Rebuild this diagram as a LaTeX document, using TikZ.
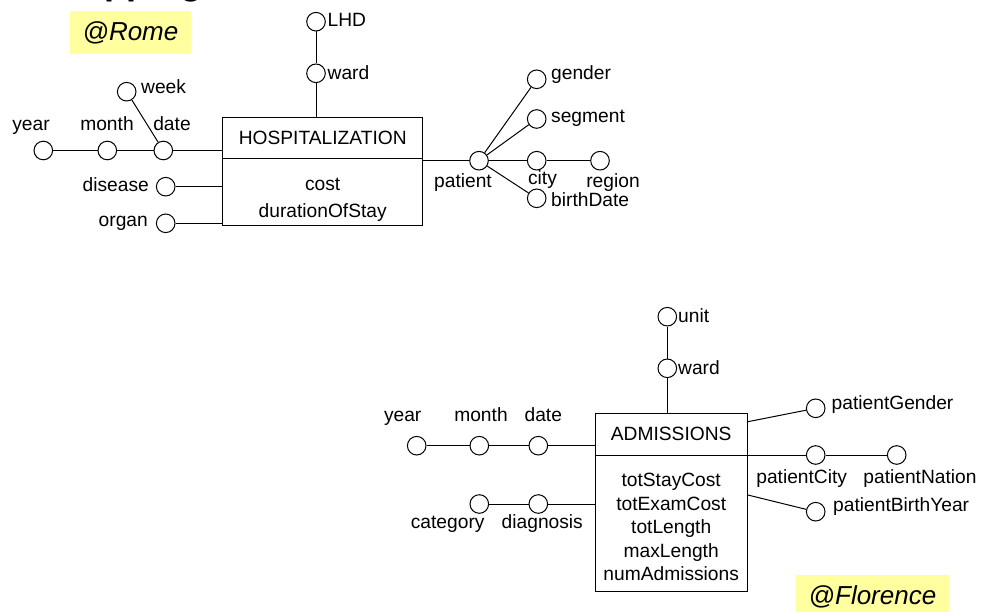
\documentclass[tikz,border=0pt]{standalone}
\usepackage{fontspec}
\setmainfont{Liberation Sans}
\definecolor{siteyellow}{RGB}{255,255,160}
\begin{document}
\begin{tikzpicture}[x=1pt,y=-1pt,
  every node/.style={font=\fontsize{19.2}{23}\selectfont},
  attr/.style={draw, circle, fill=white, inner sep=0pt, minimum size=18.6pt, line width=1pt},
  lbl/.style={inner sep=0pt, text height=13.6pt, text depth=0pt},
  fact/.style={draw, line width=1pt, inner sep=0pt},
  link/.style={line width=1pt},
  site/.style={fill=siteyellow, inner sep=0pt, font=\fontsize{26}{30}\selectfont\itshape}
]
\useasboundingbox (0,0) rectangle (985,612);
\clip (0,0) rectangle (985,612);

% slide title, running off the top edge
\node[anchor=base west, inner sep=0pt, font=\fontsize{36}{40}\selectfont\bfseries] (title) at (54,-5.5) {Mapping};

% site tags
\node[site, minimum width=121pt, minimum height=43.3pt] (rome) at (130.5,32.7) {@Rome};
\node[site, minimum width=153pt, minimum height=44pt] (florence) at (872.5,597) {\raisebox{1pt}{@Florence}};

%% ---------------- HOSPITALIZATION fact ----------------
\node[fact, minimum width=200pt, minimum height=108.4pt] (hosp) at (322.7,171.5) {};
\coordinate (hdivy) at (0,159);
\draw[link] (hosp.west |- hdivy) -- (hosp.east |- hdivy);
\node[lbl] (hname) at (322.7,138) {HOSPITALIZATION};
\node[lbl] (hcost) at (322.7,184) {cost};
\node[lbl] (hdur) at (322.7,211) {durationOfStay};

% attributes
\node[attr] (hlhd) at (316,21.7) {};
\node[attr] (hward) at (316,73.3) {};
\node[attr] (hyear) at (43.3,150.5) {};
\node[attr] (hmonth) at (107.3,150.5) {};
\node[attr] (hdate) at (163.3,150.5) {};
\node[attr] (hweek) at (126.7,91.7) {};
\node[attr] (hdis) at (165.7,186.7) {};
\node[attr] (horg) at (165.7,223.3) {};
\node[attr] (hpat) at (479,160.7) {};
\node[attr] (hgen) at (536.7,79.3) {};
\node[attr] (hseg) at (536.7,119) {};
\node[attr] (hcity) at (536.7,160.7) {};
\node[attr] (hreg) at (600,160.7) {};
\node[attr] (hbirth) at (536.7,198.3) {};

% attribute names
\node[lbl, anchor=west] (tlhd) at (327.5,20) {LHD};
\node[lbl, anchor=west] (tward) at (327.5,73) {ward};
\node[lbl] (tyear) at (31,124) {year};
\node[lbl] (tmonth) at (107,124) {month};
\node[lbl] (tdate) at (172,124) {date};
\node[lbl, anchor=west] (tweek) at (141,87) {week};
\node[lbl, anchor=east] (tdis) at (149,185) {disease};
\node[lbl, anchor=east] (torg) at (148,220) {organ};
\node[lbl] (tpat) at (463,181) {patient};
\node[lbl] (tcity) at (542.5,178) {city};
\node[lbl] (treg) at (613,181) {region};
\node[lbl, anchor=west] (tgen) at (551,73) {gender};
\node[lbl, anchor=west] (tseg) at (551,115.5) {segment};
\node[lbl, anchor=west] (tbirth) at (551,200) {birthDate};

% hierarchies
\draw[link] (hlhd) -- (hward);
\draw[link] (hward) -- (hward |- hosp.north);
\draw[link] (hyear) -- (hmonth);
\draw[link] (hmonth) -- (hdate);
\draw[link] (hdate) -- (hdate -| hosp.west);
\draw[link] (hweek) -- (hdate);
\draw[link] (hdis) -- (hdis -| hosp.west);
\draw[link] (horg) -- (horg -| hosp.west);
\draw[link] (hpat -| hosp.east) -- (hpat);
\draw[link] (hpat) -- (hgen);
\draw[link] (hpat) -- (hseg);
\draw[link] (hpat) -- (hcity);
\draw[link] (hcity) -- (hreg);
\draw[link] (hpat) -- (hbirth);

%% ---------------- ADMISSIONS fact ----------------
\node[fact, minimum width=152.3pt, minimum height=178.4pt] (adm) at (671.2,502.5) {};
\coordinate (adivy) at (0,455);
\draw[link] (adm.west |- adivy) -- (adm.east |- adivy);
\node[lbl] (aname) at (671.2,434) {ADMISSIONS};
\node[lbl] (am1) at (671.2,480) {totStayCost};
\node[lbl] (am2) at (671.2,503.5) {totExamCost};
\node[lbl] (am3) at (671.2,527) {totLength};
\node[lbl] (am4) at (671.2,550.5) {maxLength};
\node[lbl] (am5) at (671.2,574) {numAdmissions};

% attributes
\node[attr] (aunit) at (667.3,316.7) {};
\node[attr] (award) at (667.3,368.3) {};
\node[attr] (ayear) at (416.7,445.7) {};
\node[attr] (amonth) at (479.3,445.7) {};
\node[attr] (adate) at (538.3,445.7) {};
\node[attr] (acat) at (479.3,504) {};
\node[attr] (adiag) at (538.3,504) {};
\node[attr] (agen) at (815.7,408.3) {};
\node[attr] (acity) at (815.7,455) {};
\node[attr] (anat) at (896.7,455) {};
\node[attr] (aby) at (815.7,511.7) {};

% attribute names
\node[lbl, anchor=west] (tunit) at (678,316) {unit};
\node[lbl, anchor=west] (taward) at (678,368) {ward};
\node[lbl] (tayear) at (402.7,415) {year};
\node[lbl] (tamonth) at (481,415) {month};
\node[lbl] (tadate) at (543.3,415) {date};
\node[lbl] (tacat) at (447.7,522) {category};
\node[lbl] (tadiag) at (542.3,522) {diagnosis};
\node[lbl, anchor=west] (tagen) at (831.5,403) {patientGender};
\node[lbl] (tacity) at (801.7,477) {patientCity};
\node[lbl] (tanat) at (920,477) {patientNation};
\node[lbl, anchor=west] (taby) at (833,505) {patientBirthYear};

% edge points on the fact box
\path (adm.east) ++(0,-80.8) coordinate (admG);
\path (adm.east) ++(0,-7.5) coordinate (admB);

% hierarchies
\draw[link] (aunit) -- (award);
\draw[link] (award) -- (award |- adm.north);
\draw[link] (ayear) -- (amonth);
\draw[link] (amonth) -- (adate);
\draw[link] (adate) -- (adate -| adm.west);
\draw[link] (acat) -- (adiag);
\draw[link] (adiag) -- (adiag -| adm.west);
\draw[link] (admG) -- (agen);
\draw[link] (adm.east |- adivy) -- (acity);
\draw[link] (acity) -- (anat);
\draw[link] (admB) -- (aby);
\end{tikzpicture}
\end{document}
